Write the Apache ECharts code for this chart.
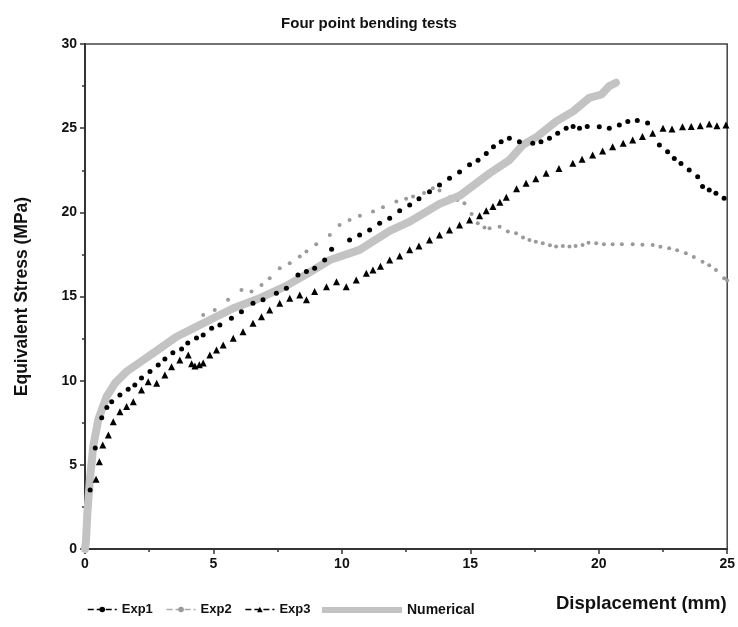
<!DOCTYPE html>
<html>
<head>
<meta charset="utf-8">
<script src="https://cdn.jsdelivr.net/npm/echarts@6/dist/echarts.min.js"></script>
<style>html,body{margin:0;padding:0;background:#fff}#c{width:738px;height:627px}</style>
</head>
<body>
<div id="c"></div>
<script>
const titleText = 'Four point bending tests';
const xName = 'Displacement (mm)';
const yName = 'Equivalent Stress (MPa)';
const seriesNames = ['Exp1', 'Exp2', 'Exp3', 'Numerical'];

const exp1 = [[0.2,3.5],[0.4,6.0],[0.65,7.8],[0.85,8.4],[1.04,8.75],[1.36,9.15],[1.68,9.49],[1.94,9.74],[2.2,10.16],[2.53,10.54],[2.85,10.93],[3.11,11.29],[3.42,11.66],[3.76,11.88],[4.0,12.24],[4.34,12.53],[4.6,12.72],[4.93,13.11],[5.25,13.31],[5.7,13.71],[6.09,14.1],[6.54,14.6],[6.93,14.8],[7.45,15.19],[7.84,15.49],[8.29,16.28],[8.62,16.48],[8.94,16.68],[9.33,17.17],[9.6,17.8],[10.3,18.36],[10.69,18.66],[11.08,18.95],[11.47,19.35],[11.86,19.65],[12.25,20.1],[12.64,20.44],[13.0,20.8],[13.41,21.23],[13.8,21.63],[14.19,22.03],[14.58,22.4],[14.97,22.82],[15.3,23.1],[15.62,23.5],[15.9,23.9],[16.2,24.2],[16.52,24.4],[16.91,24.2],[17.43,24.1],[17.75,24.2],[18.08,24.4],[18.4,24.7],[18.73,25.0],[19.0,25.1],[19.25,25.0],[19.55,25.1],[20.02,25.09],[20.41,25.0],[20.8,25.19],[21.13,25.39],[21.5,25.45],[21.9,25.3],[22.36,24.0],[22.68,23.6],[22.94,23.2],[23.2,22.9],[23.52,22.52],[23.85,22.12],[24.04,21.53],[24.3,21.33],[24.56,21.13],[24.88,20.84]];

const exp2 = [[0,0],[0.05,1.0],[0.1,2.3],[0.2,4.2],[0.35,6.3],[0.55,7.8],[0.8,8.9],[1.1,9.7],[1.5,10.3],[2.0,10.9],[2.5,11.4],[3.0,11.9],[3.5,12.5],[4.0,13.0],[4.6,13.9],[5.05,14.2],[5.57,14.8],[6.09,15.39],[6.48,15.29],[6.87,15.69],[7.19,16.08],[7.58,16.68],[7.97,16.97],[8.36,17.37],[8.62,17.67],[9.0,18.1],[9.53,18.66],[9.91,19.25],[10.3,19.55],[10.7,19.8],[11.21,20.05],[11.6,20.3],[12.12,20.64],[12.5,20.8],[12.77,20.94],[13.2,21.15],[13.54,21.43],[13.8,21.3],[14.2,20.9],[14.5,20.74],[14.77,20.54],[15.05,19.9],[15.29,19.35],[15.55,19.1],[15.75,19.05],[16.14,19.15],[16.46,18.86],[16.78,18.76],[17.05,18.5],[17.3,18.36],[17.55,18.25],[17.82,18.17],[18.1,18.05],[18.34,17.97],[18.6,18.0],[18.86,17.97],[19.1,18.0],[19.37,18.06],[19.6,18.2],[19.9,18.17],[20.2,18.1],[20.54,18.1],[20.9,18.1],[21.32,18.1],[21.7,18.08],[22.1,18.06],[22.4,17.95],[22.74,17.87],[23.05,17.75],[23.39,17.57],[23.7,17.35],[24.04,17.07],[24.3,16.85],[24.56,16.58],[24.88,16.08],[25,15.95]];

const exp3 = [[0.43,4.14],[0.56,5.19],[0.69,6.18],[0.91,6.77],[1.1,7.56],[1.36,8.16],[1.62,8.46],[1.88,8.75],[2.2,9.45],[2.46,9.94],[2.79,9.84],[3.11,10.34],[3.37,10.83],[3.69,11.23],[4.02,11.53],[4.15,11.0],[4.28,10.87],[4.45,10.95],[4.6,11.05],[4.86,11.53],[5.12,11.82],[5.38,12.12],[5.77,12.52],[6.15,12.91],[6.54,13.41],[6.87,13.8],[7.19,14.2],[7.58,14.6],[7.97,14.9],[8.36,15.09],[8.62,14.8],[8.94,15.29],[9.4,15.58],[9.79,15.88],[10.17,15.58],[10.56,15.98],[10.95,16.38],[11.21,16.58],[11.5,16.8],[11.86,17.17],[12.25,17.4],[12.64,17.77],[13.0,18.0],[13.41,18.36],[13.8,18.65],[14.19,18.95],[14.58,19.25],[14.97,19.55],[15.36,19.8],[15.62,20.1],[15.88,20.34],[16.15,20.6],[16.4,20.9],[16.8,21.4],[17.17,21.73],[17.55,22.0],[17.95,22.32],[18.45,22.6],[18.99,22.92],[19.35,23.15],[19.76,23.41],[20.15,23.65],[20.54,23.9],[20.95,24.1],[21.32,24.3],[21.7,24.5],[22.1,24.7],[22.5,25.0],[22.85,24.95],[23.26,25.09],[23.6,25.1],[23.95,25.15],[24.3,25.25],[24.6,25.15],[24.95,25.19]];

const numerical = [[0,0],[0.04,0.5],[0.09,2.1],[0.19,4.1],[0.32,6.1],[0.52,7.7],[0.84,9.05],[1.17,9.85],[1.62,10.54],[2.27,11.23],[2.92,11.92],[3.56,12.61],[4.21,13.11],[4.99,13.71],[5.77,14.3],[6.8,14.9],[7.8,15.6],[8.6,16.3],[9.53,17.17],[10.69,17.77],[11.86,18.9],[12.64,19.45],[13.8,20.5],[14.6,21.0],[15.75,22.32],[16.52,23.1],[17.04,24.0],[17.6,24.5],[18.34,25.4],[19.0,26.0],[19.63,26.8],[20.1,27.0],[20.41,27.5],[20.67,27.7]];

const xTicks = {min: 0, max: 25, interval: 5};
const yTicks = {min: 0, max: 30, interval: 5};

const FONT = '"Liberation Sans", Arial, sans-serif';
const chart = echarts.init(document.getElementById('c'));

function axisCommon() {
  return {
    axisLine: {show: true, onZero: false, lineStyle: {color: '#333', width: 2}},
    axisTick: {show: true, inside: false, length: 5, lineStyle: {color: '#333', width: 1.5}},
    minorTick: {show: true, splitNumber: 2, length: 3, lineStyle: {color: '#333', width: 1.5}},
    splitLine: {show: false},
    axisLabel: {color: '#111', fontFamily: FONT, fontWeight: 'bold', fontSize: 14}
  };
}

const legendText = {fontFamily: FONT, fontWeight: 'bold', fontSize: 13, color: '#111'};

const option = {
  backgroundColor: '#fff',
  animation: false,
  title: {
    text: titleText, left: 'center', top: 11,
    textStyle: {fontFamily: FONT, fontWeight: 'bold', fontSize: 15, color: '#111'}
  },
  grid: {left: 85, top: 44, right: 10, bottom: 78, show: true, borderColor: '#444', borderWidth: 1.5, backgroundColor: 'transparent'},
  xAxis: Object.assign(axisCommon(), {
    type: 'value', min: xTicks.min, max: xTicks.max, interval: xTicks.interval
  }),
  yAxis: Object.assign(axisCommon(), {
    type: 'value', min: yTicks.min, max: yTicks.max, interval: yTicks.interval,
    name: yName, nameLocation: 'middle', nameGap: 54, nameRotate: 90,
    nameTextStyle: {fontFamily: FONT, fontWeight: 'bold', fontSize: 17.5, color: '#111'}
  }),
  legend: [
    {
      data: [
        {name: seriesNames[0], lineStyle: {opacity: 1, width: 1.5, type: 'dashed', color: '#000'}},
        {name: seriesNames[1], lineStyle: {opacity: 1, width: 1.5, type: 'dashed', color: '#aaa'}},
        {name: seriesNames[2], lineStyle: {opacity: 1, width: 1.5, type: 'dashed', color: '#000'}}
      ],
      left: 82, top: 598, itemWidth: 29, itemHeight: 7, itemGap: 13,
      textStyle: legendText
    },
    {
      data: [{name: seriesNames[3], icon: 'rect', itemStyle: {color: '#c3c3c3'}}],
      left: 317, top: 598, itemWidth: 80, itemHeight: 6,
      textStyle: Object.assign({}, legendText, {fontSize: 14})
    }
  ],
  graphic: [{
    type: 'text', left: 556, top: 594,
    style: {text: xName, font: 'bold 18.5px ' + FONT, fill: '#111'}
  }],
  series: [
    {
      name: seriesNames[3], type: 'line', data: numerical, showSymbol: false, symbol: 'none',
      lineStyle: {color: '#c3c3c3', width: 8, cap: 'round', join: 'round'},
      itemStyle: {color: '#c3c3c3'}, z: 2
    },
    {
      name: seriesNames[1], type: 'line', data: exp2, symbol: 'circle', symbolSize: 4, showAllSymbol: true,
      lineStyle: {color: '#999', width: 1.5, type: 'dashed', opacity: 0},
      itemStyle: {color: '#9a9a9a'}, z: 1
    },
    {
      name: seriesNames[0], type: 'line', data: exp1, symbol: 'circle', symbolSize: 5, showAllSymbol: true,
      lineStyle: {color: '#000', width: 1.5, type: 'dashed', opacity: 0},
      itemStyle: {color: '#000'}, z: 4
    },
    {
      name: seriesNames[2], type: 'line', data: exp3, symbol: 'triangle', symbolSize: 7, showAllSymbol: true,
      lineStyle: {color: '#000', width: 1.5, type: 'dashed', opacity: 0},
      itemStyle: {color: '#000'}, z: 4
    }
  ]
};
chart.setOption(option);
</script>
</body>
</html>
